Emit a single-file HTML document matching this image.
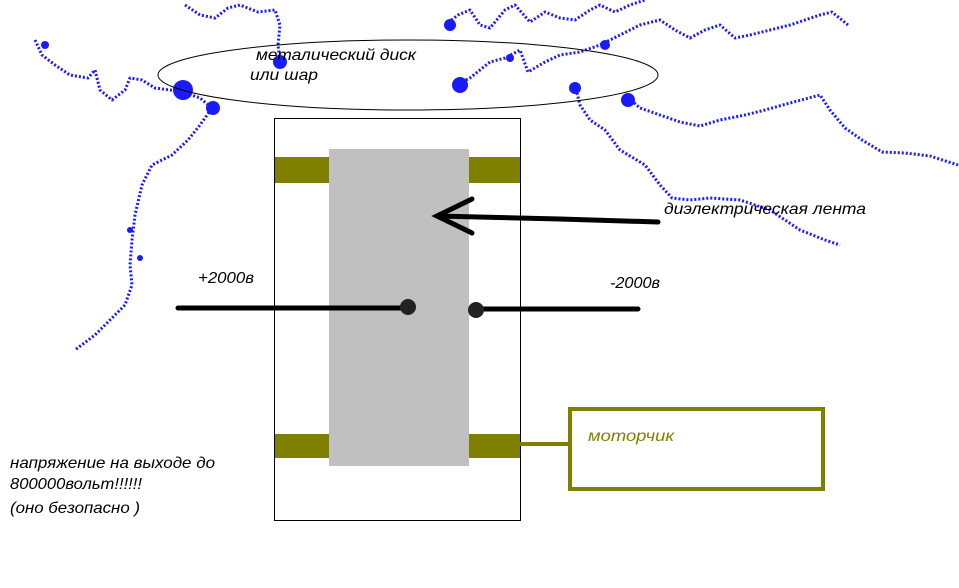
<!DOCTYPE html>
<html><head><meta charset="utf-8"><style>
html,body{margin:0;padding:0;background:#fff;}
svg{display:block}
text{font-family:"Liberation Sans","DejaVu Sans",sans-serif;font-style:italic;}
</style></head><body>
<svg width="959" height="588" viewBox="0 0 959 588" xmlns="http://www.w3.org/2000/svg">
<g fill="none" stroke="#1a1aff" stroke-width="3" stroke-dasharray="2 2" stroke-linejoin="round">
<polyline points="185,5 200,15 215,18 228,8 240,5 258,12 275,10 280,25 278,45 280,60"/>
<polyline points="35,40 42,55 55,65 70,75 88,78 95,70 100,90 112,100 125,90 130,78 142,80 155,88 170,90 183,92 200,98 212,108 200,125 188,140 172,155 152,165 142,185 135,215 132,240 130,265 132,285 125,305 110,320 95,335 75,350"/>
<polyline points="445,25 458,15 470,10 480,25 490,28 505,10 515,5 530,22 545,12 560,18 575,20 590,10 600,5 615,12 630,5 645,0"/>
<polyline points="455,85 470,78 490,62 505,58 520,50 528,72 545,62 560,55 580,52 600,45 620,35 640,25 660,20 675,30 690,38 705,30 720,25 735,38 750,35 770,30 790,25 805,20 820,15 832,12 848,25"/>
<polyline points="575,85 580,105 590,120 605,130 620,150 645,165 660,185 672,198 690,200 710,198 740,200 770,210 800,230 825,240 840,245"/>
<polyline points="625,95 640,108 660,115 680,122 700,126 720,120 745,115 765,110 790,103 820,95 830,110 845,128 862,140 882,152 905,153 930,156 958,165"/>
</g>
<g fill="#1a1aff">
<circle cx="280" cy="62" r="7"/><circle cx="183" cy="90" r="10"/><circle cx="213" cy="108" r="7"/>
<circle cx="460" cy="85" r="8"/><circle cx="450" cy="25" r="6"/><circle cx="575" cy="88" r="6"/>
<circle cx="628" cy="100" r="7"/><circle cx="605" cy="45" r="5"/><circle cx="510" cy="58" r="4"/>
<circle cx="130" cy="230" r="3"/><circle cx="140" cy="258" r="3"/><circle cx="45" cy="45" r="4"/>
</g>
<ellipse cx="408" cy="75" rx="250" ry="35" fill="none" stroke="#000" stroke-width="1"/>
<rect x="274.5" y="118.5" width="246" height="402" fill="none" stroke="#000" stroke-width="1"/>
<rect x="275" y="157" width="245" height="26" fill="#808000"/>
<rect x="275" y="434" width="245" height="24" fill="#808000"/>
<rect x="329" y="149" width="140" height="317" fill="#c0c0c0"/>
<g stroke="#000" stroke-width="5" stroke-linecap="round" fill="none">
<polyline points="658,222 560,219 437,216"/>
<polyline points="472,199 437,216 472,233"/>
<line x1="178" y1="308" x2="405" y2="308"/>
<line x1="475" y1="309" x2="638" y2="309"/>
</g>
<circle cx="408" cy="307" r="8" fill="#222"/>
<circle cx="476" cy="310" r="8" fill="#222"/>
<line x1="520" y1="444" x2="570" y2="444" stroke="#808000" stroke-width="4"/>
<rect x="570" y="409" width="253" height="80" fill="none" stroke="#808000" stroke-width="4"/>
<g font-size="16" lengthAdjust="spacingAndGlyphs">
<text x="256" y="60" textLength="160" lengthAdjust="spacingAndGlyphs" fill="#000">металический диск</text>
<text x="250" y="80" textLength="68" lengthAdjust="spacingAndGlyphs" fill="#000">или шар</text>
<text x="664" y="214" textLength="202" lengthAdjust="spacingAndGlyphs" fill="#000">диэлектрическая лента</text>
<text x="198" y="283" textLength="56" lengthAdjust="spacingAndGlyphs" fill="#000">+2000в</text>
<text x="610" y="288" textLength="50" lengthAdjust="spacingAndGlyphs" fill="#000">-2000в</text>
<text x="588" y="441" textLength="86" lengthAdjust="spacingAndGlyphs" fill="#808000">моторчик</text>
<text x="10" y="468" textLength="205" lengthAdjust="spacingAndGlyphs" fill="#000">напряжение на выходе до</text>
<text x="10" y="489" textLength="132" lengthAdjust="spacingAndGlyphs" fill="#000">800000вольт!!!!!!</text>
<text x="10" y="513" textLength="130" lengthAdjust="spacingAndGlyphs" fill="#000">(оно безопасно )</text>
</g>
</svg>
</body></html>
